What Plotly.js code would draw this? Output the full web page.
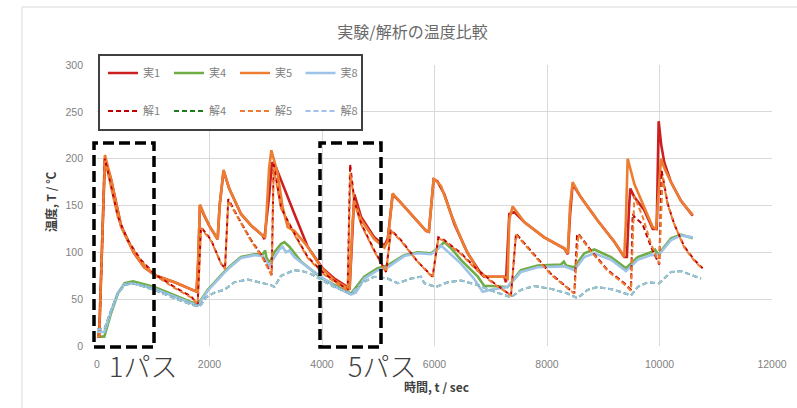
<!DOCTYPE html>
<html><head><meta charset="utf-8">
<script src="https://cdn.plot.ly/plotly-3.0.1.min.js"></script>
<style>html,body{margin:0;padding:0;background:#fff}#chart{width:797px;height:408px}</style>
</head><body><div id="chart"></div>
<script>
// ---- data (t: sec, T: deg C) ----
const seriesNames = ['実1','実4','実5','実8','解1','解4','解5','解8'];

const t_j1 = [0,40,140,250,430,480,500,660,840,1050,1380,1700,1770,1800,1830,1900,2000,2145,2180,2250,2350,2560,2750,2945,2975,3060,3110,3180,3270,3510,3745,4010,4220,4455,4490,4530,4575,4693,4930,5110,5170,5256,5400,5850,5900,5985,6050,6175,6355,6590,6830,6885,7240,7270,7330,7420,7600,7950,8310,8370,8410,8456,8600,8900,9200,9373,9420,9460,9481,9553,9730,9880,9950,9985,10030,10085,10204,10382,10590];
const T_j1 = [14,14,200,178,128,122,118,99,84,75,68,60,58,90,150,140,128,114,150,187,168,141,128,118,114,160,196,191,177,141,106,83,72,63,60,110,162,138,116,107,115,162,153,123,122,178,176,162,130,99,77,74,74,68,141,143,132,116,104,98,140,173,159,134,111,95,95,150,168,159,145,125,125,240,215,196,175,155,139];

const t_j4 = [0,130,250,370,490,640,1020,1375,1670,1790,1970,2200,2260,2380,2560,2800,2945,2990,3010,3064,3150,3271,3330,3420,3630,3980,4280,4516,4750,4990,5170,5460,5700,5940,6050,6175,6300,6470,6770,6885,7000,7300,7537,7834,8250,8300,8340,8486,8663,8841,9138,9404,9612,9849,9920,9960,9996,10204,10382,10590];
const T_j4 = [10,10,35,56,67,69,63,54,47,44,60,76,79,86,95,98,98,102,95,88,100,109,111,106,90,73,63,56,74,83,86,97,100,99,104,111,104,92,74,64,64,63,81,86,87,90,86,84,99,103,95,83,95,100,103,99,99,115,119,115];

const t_j5 = [0,40,140,250,430,660,840,1050,1380,1700,1770,1800,1830,1900,2000,2145,2180,2250,2350,2560,2750,2945,2990,3060,3100,3140,3212,3301,3390,3508,3745,3982,4220,4455,4490,4540,4575,4693,4930,5110,5170,5256,5400,5850,5900,5985,6115,6293,6530,6767,6916,7240,7300,7330,7390,7600,7950,8310,8370,8410,8456,8600,8900,9200,9373,9400,9434,9553,9730,9879,9940,9990,10027,10085,10204,10382,10590];
const T_j5 = [12,12,204,178,127,99,84,75,68,60,58,95,151,141,128,114,150,188,168,141,128,118,116,190,209,200,184,148,127,123,106,84,70,62,60,130,155,135,114,105,112,163,153,123,122,179,171,141,106,81,74,74,72,135,149,132,116,104,99,150,175,159,134,111,95,130,200,173,148,127,125,175,200,190,175,155,140];

const t_j8 = [0,130,250,370,490,640,1020,1375,1670,1790,1970,2200,2260,2380,2560,2800,2945,3064,3150,3240,3301,3360,3420,3508,3745,3982,4218,4516,4600,4753,4990,5170,5460,5700,5940,6050,6120,6250,6470,6700,6856,7000,7300,7537,7834,8308,8486,8663,8841,9138,9404,9612,9849,9996,10204,10382,10590];
const T_j8 = [15,15,37,57,66,67,61,53,46,43,59,75,78,85,94,97,96,86,95,103,106,100,102,95,84,74,64,55,57,72,81,84,96,99,98,103,107,100,88,72,58,60,63,79,84,85,81,95,99,92,80,92,97,98,113,118,116];

const t_k1 = [0,40,140,250,370,545,780,1020,1375,1670,1790,1849,2030,2205,2276,2334,2500,2740,2945,3105,3141,3270,3508,3745,4041,4456,4500,4575,4693,4930,5108,5138,5227,5404,5700,5967,6068,6175,6471,6767,7063,7360,7449,7716,8071,8486,8534,8556,8782,9079,9375,9493,9523,9553,9700,9849,9996,10039,10145,10263,10441,10619,10767];
const T_k1 = [10,10,200,170,138,113,92,77,63,53,45,127,113,88,83,157,138,113,95,76,194,148,120,95,77,60,194,155,131,102,83,79,124,113,90,74,116,113,99,81,67,54,120,102,77,56,118,120,102,81,67,60,141,138,130,106,87,187,152,130,106,92,83];

const t_k5 = [0,40,140,250,370,545,780,1020,1375,1670,1790,1849,2030,2205,2276,2334,2500,2740,2945,3105,3141,3270,3508,3745,4041,4456,4505,4575,4693,4930,5108,5138,5227,5404,5700,5967,6068,6175,6471,6767,7063,7360,7449,7716,8071,8486,8556,8782,9079,9375,9493,9553,9700,9849,9996,10056,10145,10263,10441,10619,10767];
const T_k5 = [10,10,198,168,137,112,91,76,62,52,45,126,112,88,82,155,137,112,94,75,190,147,119,94,76,59,185,153,130,101,82,79,123,112,90,73,115,112,98,80,66,54,119,101,76,56,119,101,80,66,59,160,138,109,88,180,151,130,105,91,82];

const t_k8 = [0,130,250,370,490,640,1019,1375,1790,1849,1938,2086,2263,2441,2679,2916,3093,3153,3271,3508,3650,3800,3982,4218,4516,4693,4930,5168,5345,5582,5760,5819,6027,6234,6471,6767,7063,7360,7537,7775,8071,8367,8545,8722,8900,9196,9493,9612,9790,9996,10204,10382,10738];
const T_k8 = [18,18,38,56,65,67,60,51,42,44,52,57,60,68,71,68,65,63,75,81,80,77,71,63,56,67,74,72,67,72,74,67,63,68,70,65,58,52,60,64,61,56,51,60,63,60,54,63,68,67,79,80,72];

// 解4 is hidden under 解8 in the reference
const t_k4 = t_k8;
const T_k4 = T_k8;

const xTicks = [0,2000,4000,6000,8000,10000,12000];
const yTicks = [0,50,100,150,200,250,300];
const passLabels = ['1パス','5パス'];

// ---- plot geometry helpers (pixel -> paper) ----
const W = 797, H = 408, L = 97, R = 25, TOP = 65, B = 62;
const PW = W - L - R, PH = H - TOP - B;
const px = v => (v - L) / PW;
const py = v => (H - B - v) / PH;

const colors = ['#CC2020','#70AD47','#ED7D31','#9DC3E6','#C00000','#1E7B1E','#ED7D31','#9DC3E6'];
const xs = [t_j1,t_j4,t_j5,t_j8,t_k1,t_k4,t_k5,t_k8];
const ys = [T_j1,T_j4,T_j5,T_j8,T_k1,T_k4,T_k5,T_k8];

const traces = seriesNames.map((n,i) => ({
  type:'scatter', mode:'lines', name:n, x:xs[i], y:ys[i],
  line:{color:colors[i], width: i<4 ? 2.6 : 2, dash: i<4 ? 'solid' : '5px,3px'},
  legend: i===0 ? 'legend' : 'legend'+(i+1),
  hoverinfo:'skip'
}));

const legFont = {family:'"Noto Sans CJK JP", "Liberation Sans", sans-serif', size:11, color:'#7f7f7f'};
const colPx = [103,169,235,300.5];
const rowPx = [73,111];

const layout = {
  width:W, height:H,
  margin:{l:L, r:R, t:TOP, b:B},
  paper_bgcolor:'#fff', plot_bgcolor:'#fff',
  showlegend:true,
  title:{text:'実験/解析の温度比較', x:412.5/W, xref:'container', xanchor:'center', y:1-32/H, yref:'container', yanchor:'middle',
    font:{family:'"Noto Sans CJK JP", sans-serif', size:16, color:'#6a6a6a'}},
  xaxis:{range:[0,12000], tickvals:xTicks, ticktext:xTicks.map(String), showgrid:true, gridcolor:'#d9d9d9', gridwidth:1,
    zeroline:false, showline:false, ticks:'', ticklabelstandoff:10,
    tickfont:{family:'"Liberation Sans", Arial, sans-serif', size:10.5, color:'#7f7f7f'}},
  yaxis:{range:[0,300], tickvals:yTicks, ticktext:yTicks.map(String), showgrid:true, gridcolor:'#d9d9d9', gridwidth:1,
    zeroline:false, showline:false, ticks:'', ticklabelstandoff:13,
    tickfont:{family:'"Liberation Sans", Arial, sans-serif', size:10.5, color:'#7f7f7f'}},
  shapes:[
    {type:'line', xref:'paper', yref:'paper', x0:px(22), x1:px(22), y0:py(7), y1:py(410), line:{color:'#d9d9d9', width:1}},
    {type:'line', xref:'paper', yref:'paper', x0:px(22), x1:px(800), y0:py(7), y1:py(7), line:{color:'#d9d9d9', width:1}},
    {type:'rect', xref:'paper', yref:'paper', x0:px(99), x1:px(362), y0:py(130), y1:py(55), layer:'above',
      fillcolor:'#ffffff', line:{color:'#404040', width:2}},
    {type:'rect', xref:'paper', yref:'paper', x0:px(94), x1:px(154), y0:py(347), y1:py(143), layer:'above',
      line:{color:'#000', width:3.5, dash:'11px,5px'}},
    {type:'rect', xref:'paper', yref:'paper', x0:px(320), x1:px(381), y0:py(347), y1:py(143), layer:'above',
      line:{color:'#000', width:3.5, dash:'11px,5px'}}
  ],
  annotations:[
    {text:'<b>温度, T / ℃</b>', xref:'paper', yref:'paper', x:px(50), y:py(202), textangle:-90, showarrow:false,
      xanchor:'center', yanchor:'middle', font:{family:'"Noto Sans CJK JP", sans-serif', size:12, color:'#404040'}},
    {text:'<b>時間, t / sec</b>', xref:'paper', yref:'paper', x:px(436), y:py(386), showarrow:false,
      xanchor:'center', yanchor:'middle', font:{family:'"Noto Sans CJK JP", sans-serif', size:12, color:'#404040'}},
    {text:passLabels[0], xref:'paper', yref:'paper', x:px(143), y:py(365), showarrow:false,
      xanchor:'center', yanchor:'middle', font:{family:'"Noto Sans CJK JP", sans-serif', size:27, color:'#404040', weight:300}},
    {text:passLabels[1], xref:'paper', yref:'paper', x:px(382), y:py(365), showarrow:false,
      xanchor:'center', yanchor:'middle', font:{family:'"Noto Sans CJK JP", sans-serif', size:27, color:'#404040', weight:300}}
  ]
};

seriesNames.forEach((n,i) => {
  const key = i===0 ? 'legend' : 'legend'+(i+1);
  layout[key] = {x:px(colPx[i%4]), y:py(rowPx[Math.floor(i/4)]), xanchor:'left', yanchor:'middle',
    bgcolor:'rgba(0,0,0,0)', borderwidth:0, font:legFont, itemwidth:30};
});

Plotly.newPlot('chart', traces, layout, {displayModeBar:false, staticPlot:true});
</script>
</body></html>
